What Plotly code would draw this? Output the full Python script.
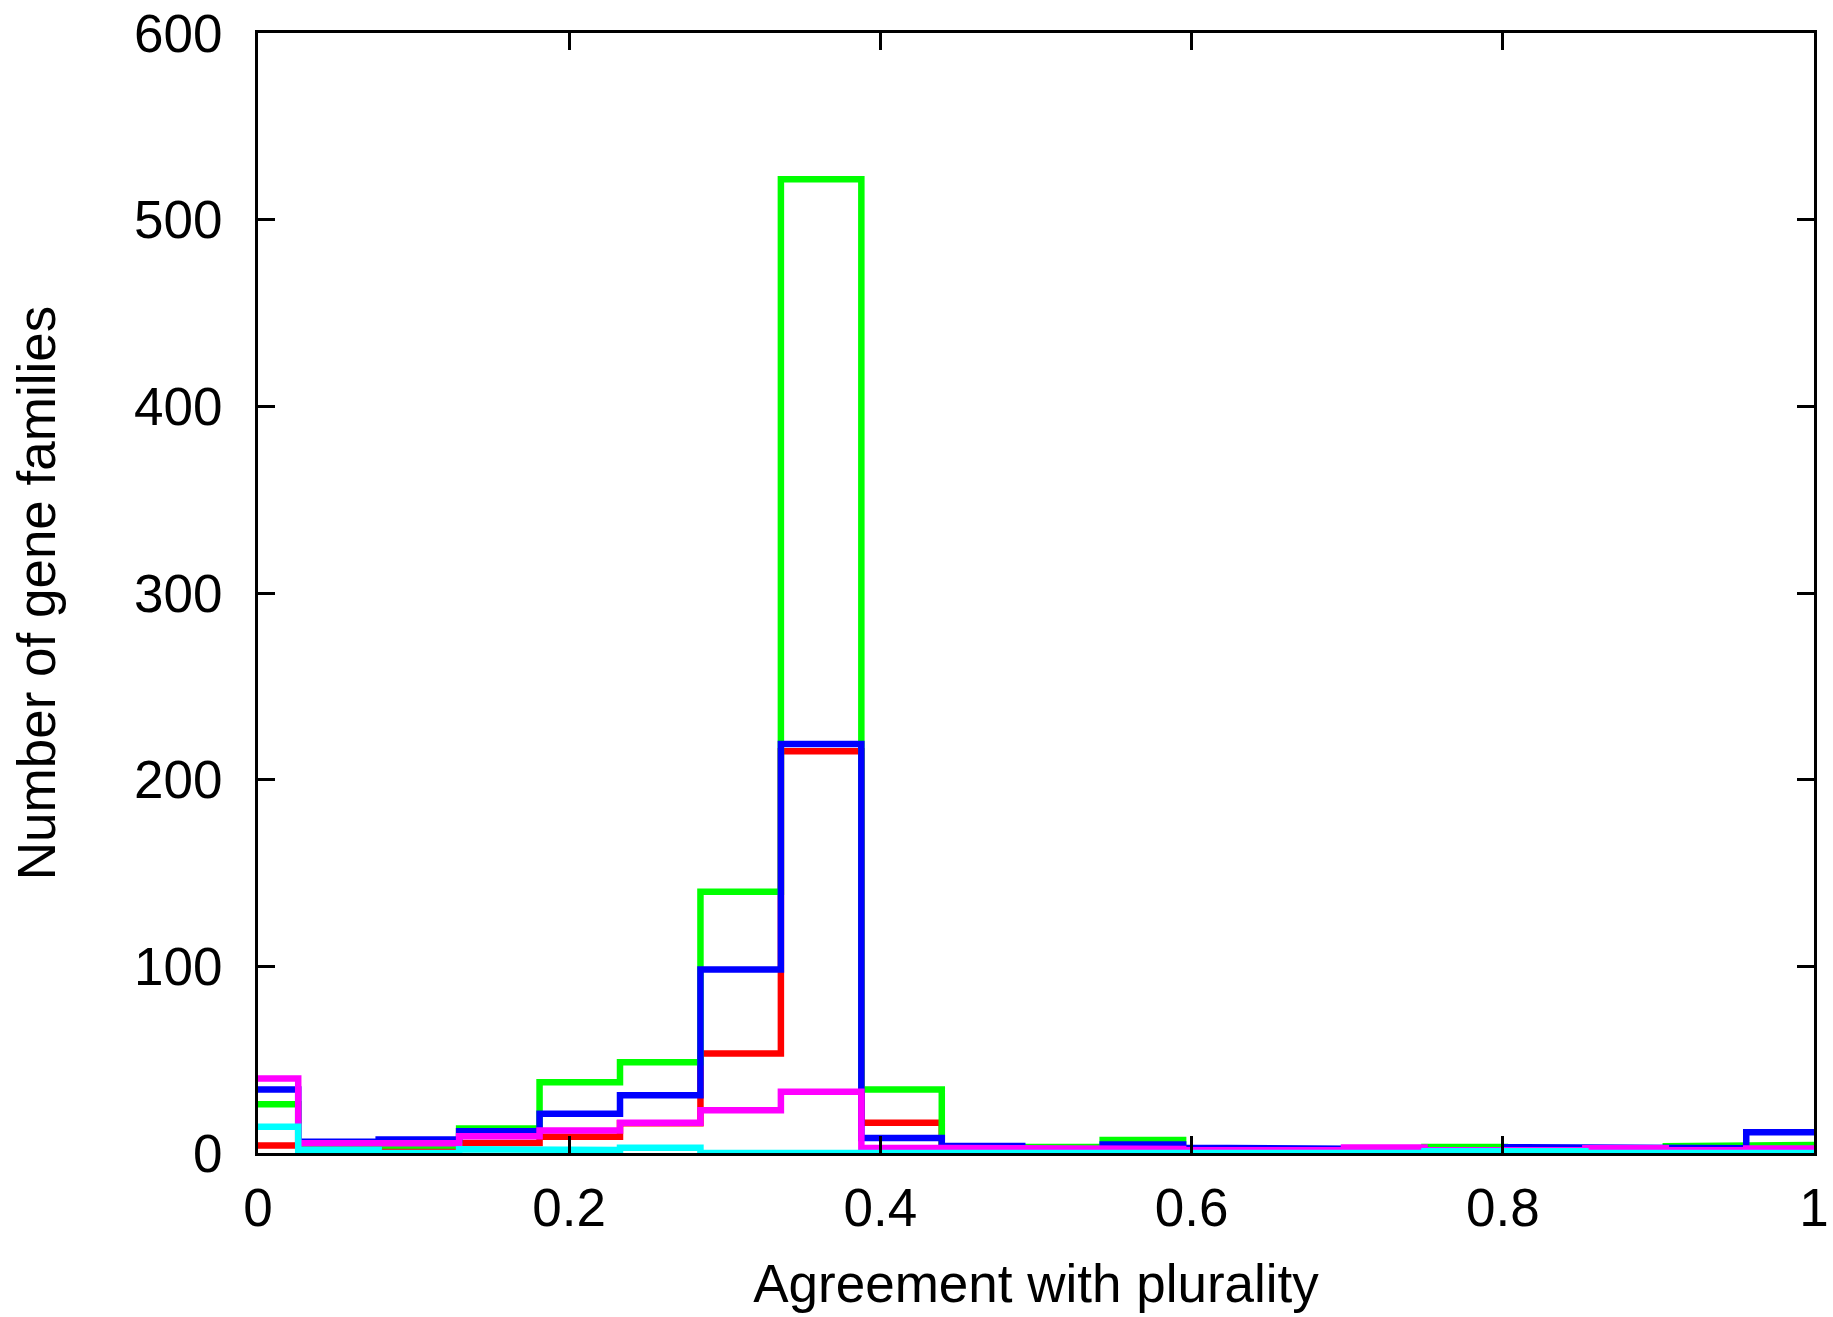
import plotly.graph_objects as go

# Bin centres (agreement with plurality)
bin_centers = [0.0000, 0.0517, 0.1034, 0.1551, 0.2068, 0.2585, 0.3102, 0.3619,
               0.4136, 0.4653, 0.5170, 0.5687, 0.6204, 0.6721, 0.7238, 0.7755,
               0.8272, 0.8789, 0.9306, 0.9823]

# Number of gene families per bin, one list per series
red_counts = [4, 4, 3, 5.4, 8.7, 16, 53.3, 215.2, 16.2, 2, 1, 1, 1, 1, 1, 1, 1, 1, 1, 1]
green_counts = [26.1, 3, 4, 13.1, 37.9, 48.6, 139.9, 521.6, 34, 3, 3.4, 6.9, 2, 2, 2, 3.2, 2, 2, 3.6, 4.4]
blue_counts = [34, 6, 7.2, 11.7, 21, 31, 98.3, 219.1, 8.1, 3.7, 2, 4.6, 2.8, 2.8, 2, 0, 3.1, 3.3, 2.6, 11.1]
magenta_counts = [39.9, 5.2, 5.2, 9, 12, 16.2, 22.9, 32.8, 2.8, 2.4, 2.2, 2.2, 1.5, 1.5, 2.9, 1.5, 1.5, 2.6, 1.5, 2.4]
cyan_counts = [14, 1.6, 0, 2, 1.6, 2.8, 0, 0, 0, 0, 0, 0, 0, 0, 0, 1, 1, 0, 0, 0]

series = [
    ("red", red_counts, "#ff0000"),
    ("green", green_counts, "#00ff00"),
    ("blue", blue_counts, "#0000ff"),
    ("magenta", magenta_counts, "#ff00ff"),
    ("cyan", cyan_counts, "#00ffff"),
]

x_tick_vals = [0, 0.2, 0.4, 0.6, 0.8, 1]
x_tick_text = ["0", "0.2", "0.4", "0.6", "0.8", "1"]
y_tick_vals = [0, 100, 200, 300, 400, 500, 600]


def histeps(centers, counts):
    """Build a gnuplot-style 'histeps' outline from bin centres and counts."""
    xs, ys = [], []
    n = len(centers)
    for i, (c, v) in enumerate(zip(centers, counts)):
        left = c - (centers[1] - centers[0]) / 2 if i == 0 else (centers[i - 1] + c) / 2
        right = c + (centers[-1] - centers[-2]) / 2 if i == n - 1 else (c + centers[i + 1]) / 2
        xs += [left, right]
        ys += [v, v]
    return xs, ys


fig = go.Figure()
for name, counts, color in series:
    xs, ys = histeps(bin_centers, counts)
    fig.add_trace(go.Scatter(x=xs, y=ys, mode="lines", name=name,
                             line=dict(color=color, width=6.5),
                             hoverinfo="skip"))

font_family = "Liberation Sans, Arial, Helvetica, sans-serif"
fs = 53

fig.update_layout(
    width=1833, height=1317,
    margin=dict(l=258, r=19, t=33, b=164, autoexpand=False),
    paper_bgcolor="white", plot_bgcolor="white",
    showlegend=False,
    font=dict(family=font_family, size=fs, color="black"),
)
fig.update_xaxes(
    range=[0, 1], tickvals=x_tick_vals, ticktext=x_tick_text,
    ticks="inside", ticklen=17, tickwidth=2.5, tickcolor="black",
    showline=True, linewidth=3, linecolor="black", mirror="ticks",
    showgrid=False, zeroline=False, automargin=False,
    tickfont=dict(family=font_family, size=fs, color="black"),
    ticklabelstandoff=6,
    title=dict(text="Agreement with plurality",
               font=dict(family=font_family, size=fs, color="black"),
               standoff=30),
)
fig.update_yaxes(
    range=[0, 600], tickvals=y_tick_vals,
    ticks="inside", ticklen=17, tickwidth=2.5, tickcolor="black",
    showline=True, linewidth=3, linecolor="black", mirror="ticks",
    showgrid=False, zeroline=False, automargin=False,
    tickfont=dict(family=font_family, size=fs, color="black"),
    ticklabelstandoff=22,
    title=dict(text="Number of gene families",
               font=dict(family=font_family, size=fs, color="black"),
               standoff=62),
)

fig.write_html("out.html")
